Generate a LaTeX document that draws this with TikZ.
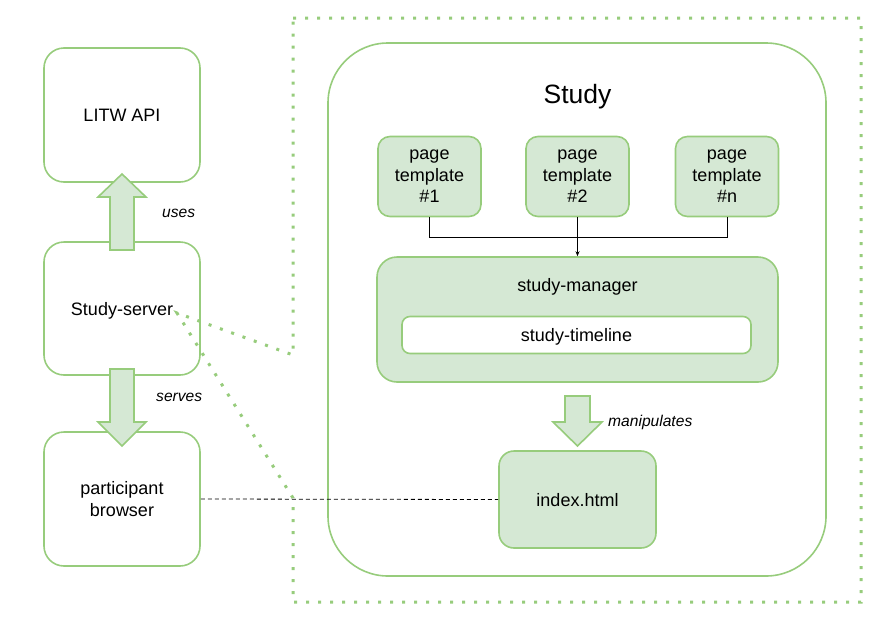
\documentclass[tikz,border=0pt]{standalone}
\usepackage{fontspec}
\setmainfont{Liberation Sans}
\usetikzlibrary{arrows.meta}
\definecolor{gline}{HTML}{97CC7C}
\definecolor{gfill}{HTML}{D5E8D4}
\tikzset{
  box/.style={draw=gline, line width=1.6pt, rectangle, rounded corners=#1, inner sep=0pt, align=center,
    text depth=0pt, font=\fontsize{18}{21.6}\selectfont},
  box/.default=20pt,
  gbox/.style={box=#1, fill=gfill},
  gbox/.default=14pt,
  lbl/.style={font=\fontsize{15.6}{18}\selectfont\itshape, inner sep=0pt},
  plain/.style={inner sep=0pt, text depth=0pt},
  blockarrow/.style={draw=gline, fill=gfill, line width=1.6pt, line join=miter},
  dotline/.style={draw=gline, line width=3pt, dash pattern=on 3pt off 9pt},
}
\begin{document}
\begin{tikzpicture}[x=1pt, y=-1pt]
\useasboundingbox (0,0) rectangle (872,640);

% outer callout (dotted)
\coordinate (tip) at (177,313);
\draw[dotline] (293,18) -- (861,18) -- (861,602) -- (293,602) -- (293,498) -- (tip) -- (293,355) -- cycle;

% left column
\node[box, minimum width=156pt, minimum height=134pt] (litw) at (122,115) {LITW API};
\node[box, minimum width=156pt, minimum height=133pt] (srv) at (122,308.5) {Study-server};
\node[box, minimum width=156pt, minimum height=134pt] (pb) at (122,499) {participant\\browser};

% uses arrow
\draw[blockarrow] (110,250) -- (110,197) -- (98,197) -- (122,174) -- (146,197) -- (134,197) -- (134,250) -- cycle;
\node[lbl, anchor=west] (uses) at (162,213) {uses};
% serves arrow
\draw[blockarrow] (110,369) -- (110,422) -- (98,422) -- (122,446) -- (146,422) -- (134,422) -- (134,369) -- cycle;
\node[lbl, anchor=west] (serves) at (156,397) {serves};

% Study container
\node[box=60pt, minimum width=498pt, minimum height=533pt] (study) at (577,309.5) {};
\node[plain, font=\fontsize{26.5}{30}\selectfont] (studylbl) at (577.5,94) {Study};

% page templates
\node[gbox=12pt, minimum width=103pt, minimum height=80pt] (t1) at (429.5,176.5) {page\\template\\\#1};
\node[gbox=12pt, minimum width=103pt, minimum height=80pt] (t2) at (577.5,176.5) {page\\template\\\#2};
\node[gbox=12pt, minimum width=103pt, minimum height=80pt] (tn) at (727,176.5) {page\\template\\\#n};

% study-manager
\node[gbox=20pt, minimum width=401pt, minimum height=125pt] (mgr) at (577.5,319.5) {};
\node[plain, font=\fontsize{18}{21.6}\selectfont] (mgrlbl) at (577.5,285) {study-manager};
\node[box=8pt, fill=white, minimum width=349pt, minimum height=37pt] (tl) at (576.5,335) {study-timeline};

% connectors
\coordinate (j) at (577.5,237);
\draw[line width=0.8pt] (t1.south) |- (j);
\draw[line width=0.8pt] (tn.south) |- (j);
\draw[line width=0.8pt, -{Stealth[length=5pt, width=4pt]}] (t2.south) -- (mgr.north);

% manipulates arrow
\draw[blockarrow] (565,396) -- (565,422) -- (553,422) -- (577.5,446) -- (602,422) -- (590,422) -- (590,396) -- cycle;
\node[lbl, anchor=west] (manip) at (608,422) {manipulates};

% index.html
\node[gbox=15pt, minimum width=157pt, minimum height=97pt] (idx) at (577.5,499.5) {index.html};

% dashed link
\draw[line width=0.8pt, dash pattern=on 4pt off 3pt] (pb.east) -- (idx.west);
\end{tikzpicture}
\end{document}
